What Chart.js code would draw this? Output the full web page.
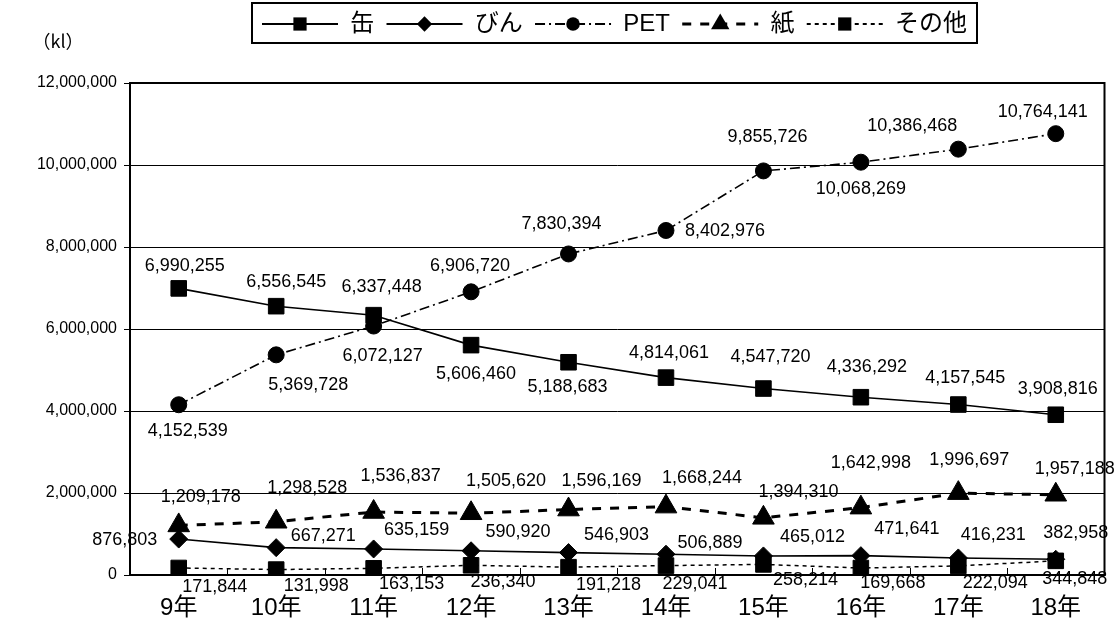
<!DOCTYPE html>
<html>
<head>
<meta charset="utf-8">
<script src="https://cdn.jsdelivr.net/npm/chart.js@4/dist/chart.umd.min.js"></script>
<style>
  html, body { margin: 0; padding: 0; background: #fff; }
  #wrap { width: 1118px; height: 621px; }
</style>
</head>
<body>
<div id="wrap"><canvas id="c" width="1118" height="621"></canvas></div>
<script>
// Beverage container volumes by fiscal year (kl)
const years = ['9年', '10年', '11年', '12年', '13年', '14年', '15年', '16年', '17年', '18年'];
const seriesNames = ['缶', 'びん', 'PET', '紙', 'その他'];
const can   = [6990255, 6556545, 6337448, 5606460, 5188683, 4814061, 4547720, 4336292, 4157545, 3908816];
const glass = [876803, 667271, 635159, 590920, 546903, 506889, 465012, 471641, 416231, 382958];
const pet   = [4152539, 5369728, 6072127, 6906720, 7830394, 8402976, 9855726, 10068269, 10386468, 10764141];
const paper = [1209178, 1298528, 1536837, 1505620, 1596169, 1668244, 1394310, 1642998, 1996697, 1957188];
const other = [171844, 131998, 163153, 236340, 191218, 229041, 258214, 169668, 222094, 344848];
const yTicks = [0, 2000000, 4000000, 6000000, 8000000, 10000000, 12000000];
const unitLabel = '（kl）';

// Where each value label sits relative to its point [dx, dy] in px
const canLabelPos   = [[6,-22],[10,-24],[8,-28],[5,29],[-1,25],[3,-25],[7,-32],[6,-30],[7,-27],[2,-26]];
const glassLabelPos = [[-54,1],[47,-12],[43,-19],[47,-19],[48,-18],[44,-11],[49,-19],[46,-27],[35,-23],[20,-26]];
const petLabelPos   = [[9,26],[32,30],[9,30],[-1,-26],[-7,-30],[59,1],[4,-34],[0,27],[-46,-23],[-13,-22]];
const paperLabelPos = [[22,-28],[31,-34],[27,-36],[35,-32],[33,-29],[36,-29],[35,-26],[10,-45],[11,-33],[19,-26]];
const otherLabelPos = [[36,19],[40,16],[38,16],[32,17],[40,18],[29,18],[42,16],[32,15],[37,17],[19,18]];
const labelPositions = [canLabelPos, glassLabelPos, petLabelPos, paperLabelPos, otherLabelPos];

const FONT = "'Liberation Sans', 'Noto Sans CJK JP', sans-serif";
const fmt = v => v.toLocaleString('en-US');

function series(label, data, style) {
  return Object.assign({
    label, data,
    borderColor: '#000',
    backgroundColor: '#000',
    pointBackgroundColor: '#000',
    pointBorderColor: '#000',
    pointBorderWidth: 1,
    tension: 0,
    fill: false
  }, style);
}

const datasets = [
  series(seriesNames[0], can,   { borderWidth: 1.6, pointStyle: 'rect',     pointRadius: 11 }),
  series(seriesNames[1], glass, { borderWidth: 1.6, pointStyle: 'rectRot',  pointRadius: 9 }),
  series(seriesNames[2], pet,   { borderWidth: 1.6, borderDash: [10, 4, 2, 4], pointStyle: 'circle', pointRadius: 8 }),
  series(seriesNames[3], paper, { borderWidth: 3,   borderDash: [9, 9],     pointStyle: 'triangle', pointRadius: 12.5 }),
  series(seriesNames[4], other, { borderWidth: 1.5, borderDash: [4, 4],     pointStyle: 'rect',     pointRadius: 11 })
];

// simple marker shapes for the legend
function drawMarker(ctx, style, r, x, y) {
  ctx.beginPath();
  if (style === 'rect') {
    const s = r * Math.SQRT1_2;
    ctx.rect(x - s, y - s, 2 * s, 2 * s);
  } else if (style === 'rectRot') {
    ctx.moveTo(x, y - r); ctx.lineTo(x + r, y); ctx.lineTo(x, y + r); ctx.lineTo(x - r, y);
    ctx.closePath();
  } else if (style === 'circle') {
    ctx.arc(x, y, r, 0, Math.PI * 2);
  } else if (style === 'triangle') {
    ctx.moveTo(x, y - r);
    ctx.lineTo(x + r * Math.sin(Math.PI * 2 / 3), y - r * Math.cos(Math.PI * 2 / 3));
    ctx.lineTo(x - r * Math.sin(Math.PI * 2 / 3), y - r * Math.cos(Math.PI * 2 / 3));
    ctx.closePath();
  }
  ctx.fill();
}

// plot frame plus the short inward ticks between categories
const framePlugin = {
  id: 'frame',
  afterDraw(chart) {
    const { ctx, chartArea: a } = chart;
    const xs = chart.scales.x;
    ctx.save();
    ctx.strokeStyle = '#000';
    ctx.lineWidth = 1;
    const n = chart.data.labels.length;
    const step = xs.getPixelForValue(1) - xs.getPixelForValue(0);
    ctx.beginPath();
    for (let i = 1; i < n; i++) {
      const x = Math.round(xs.getPixelForValue(i) - step / 2) + 0.5;
      ctx.moveTo(x, a.bottom);
      ctx.lineTo(x, a.bottom - 7);
    }
    ctx.stroke();
    ctx.lineWidth = 2;
    ctx.strokeRect(a.left, a.top, a.right - a.left, a.bottom - a.top);
    // unit caption
    ctx.fillStyle = '#000';
    ctx.font = "18px 'Noto Sans CJK JP', sans-serif";
    ctx.textAlign = 'center';
    ctx.textBaseline = 'middle';
    ctx.fillText(unitLabel, 58, 41);
    ctx.restore();
  }
};

// value labels beside every point
const valueLabels = {
  id: 'valueLabels',
  afterDraw(chart) {
    const ctx = chart.ctx;
    ctx.save();
    ctx.font = '18px ' + FONT;
    ctx.fillStyle = '#000';
    ctx.textAlign = 'center';
    ctx.textBaseline = 'middle';
    chart.data.datasets.forEach((ds, di) => {
      const meta = chart.getDatasetMeta(di);
      const pos = labelPositions[di];
      meta.data.forEach((pt, i) => {
        ctx.fillText(fmt(ds.data[i]), pt.x + pos[i][0], pt.y + pos[i][1]);
      });
    });
    ctx.restore();
  }
};

// boxed legend with line samples
const boxedLegend = {
  id: 'boxedLegend',
  afterDraw(chart) {
    const ctx = chart.ctx;
    const box = { left: 252, top: 3, right: 977, bottom: 43 };
    const sampleW = 76, pad = 10;
    const cy = (box.top + box.bottom) / 2 + 1;
    ctx.save();
    ctx.font = '24px ' + FONT;
    const ds = chart.data.datasets;
    const widths = ds.map(d => ctx.measureText(d.label).width);
    const used = ds.length * sampleW + widths.reduce((s, w) => s + w, 0);
    const gap = (box.right - box.left - 2 * pad - used) / (ds.length * 2 - 1);
    ctx.lineWidth = 2;
    ctx.strokeStyle = '#000';
    ctx.strokeRect(box.left, box.top, box.right - box.left, box.bottom - box.top);
    let x = box.left + pad;
    ds.forEach((d, i) => {
      ctx.save();
      ctx.strokeStyle = '#000';
      ctx.fillStyle = '#000';
      ctx.lineWidth = Math.max(d.borderWidth, 2);
      ctx.setLineDash(d.borderDash || []);
      ctx.beginPath();
      ctx.moveTo(x, cy);
      ctx.lineTo(x + sampleW, cy);
      ctx.stroke();
      ctx.setLineDash([]);
      drawMarker(ctx, d.pointStyle, d.pointRadius * 0.85, x + sampleW / 2, cy);
      ctx.restore();
      x += sampleW + gap;
      ctx.fillStyle = '#000';
      ctx.textAlign = 'left';
      ctx.textBaseline = 'middle';
      ctx.fillText(d.label, x, cy);
      x += widths[i] + gap;
    });
    ctx.restore();
  }
};

new Chart(document.getElementById('c'), {
  type: 'line',
  data: { labels: years, datasets },
  options: {
    responsive: false,
    animation: false,
    devicePixelRatio: 1,
    layout: { padding: { left: 0, right: 12, top: 83, bottom: 0 } },
    plugins: {
      legend: { display: false },
      tooltip: { enabled: false }
    },
    scales: {
      x: {
        type: 'category',
        offset: true,
        grid: { display: false, drawTicks: false },
        border: { display: false },
        ticks: { color: '#000', font: { family: FONT, size: 24 }, padding: 19, maxRotation: 0, autoSkip: false },
        afterFit: s => { s.height = 46; }
      },
      y: {
        min: yTicks[0],
        max: yTicks[yTicks.length - 1],
        afterBuildTicks: s => { s.ticks = yTicks.map(v => ({ value: v })); },
        grid: { color: '#000', lineWidth: 1, tickLength: 6, drawTicks: true },
        border: { display: false },
        ticks: { color: '#000', font: { family: FONT, size: 16 }, padding: 7, callback: v => fmt(v) },
        afterFit: s => { s.width = 130; }
      }
    }
  },
  plugins: [framePlugin, valueLabels, boxedLegend]
});
</script>
</body>
</html>
